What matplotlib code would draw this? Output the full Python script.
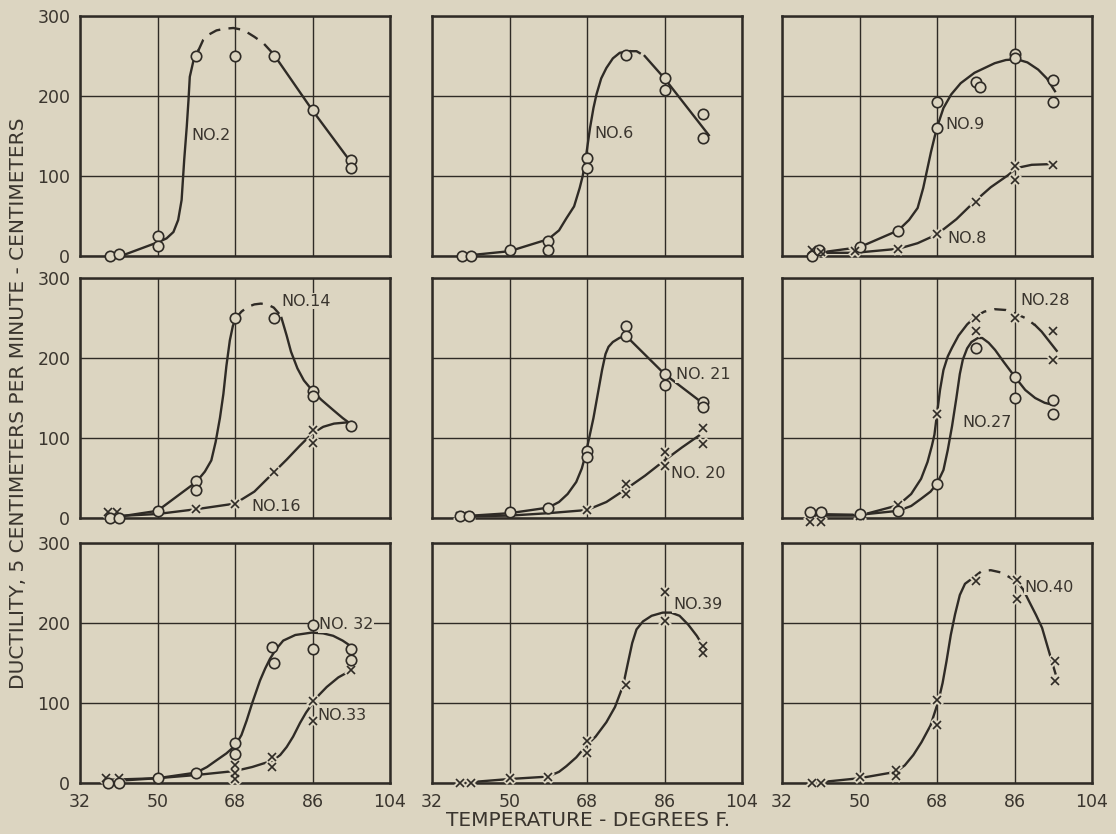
import numpy as np
import matplotlib.pyplot as plt

nan = np.nan
bg = '#dcd5c1'
ink = '#2f2b26'
txt = '#3a352e'

# ---- panel 1: No. 2 ----
no2_t = [39, 41, 50, 50, 59, 68, 77, 86, 95, 95]
no2_v = [0, 2, 25, 12, 250, 250, 250, 182, 120, 110]
no2_line_x = [39, 42, 50, 52.1, 53.7, 54.8, 55.6, 56.2, 56.8, 57.2, 57.5, 58.3, 59.5,
              nan, 77, 86, 95.5]
no2_line_y = [0, 1, 17, 22, 30, 45, 70, 120, 162, 195, 224, 243, 257,
              nan, 252, 182, 113]
no2_dash_x = [59.5, 60.6, 62, 63.7, 65.5, 67.6, 69.5, 70.7, 72.5, 74.6, 77]
no2_dash_y = [257, 270, 277, 282, 284, 285, 283, 280, 274, 266, 252]

# ---- panel 2: No. 6 ----
no6_t = [39, 41, 50, 59, 59, 68, 68, 77, 86, 86, 95, 95]
no6_v = [0, 0, 7, 19, 7, 123, 110, 251, 223, 207, 177, 147]
no6_line_x = [39, 50, 59, 61.5, 63.2, 65, 66.3, 67, 67.7, 68.7, 69.5, 70.2, 71.3, 72.5,
              74, 75.6, 77.9, nan, 81.4, 86, 96.3]
no6_line_y = [0, 6, 21, 32, 47, 62, 85, 100, 122, 160, 185, 202, 222, 235,
              247, 254, 256, nan, 250, 222, 151]
no6_dash_x = [77.9, 79.5, 81.4]
no6_dash_y = [256, 256, 250]

# ---- panel 3: No. 9 and No. 8 ----
no9_t = [39, 40.5, 50, 59, 68, 68, 77, 78, 86, 86, 95, 95]
no9_v = [0, 7, 11, 31, 160, 193, 218, 211, 253, 247, 220, 192]
no9_line_x = [39, 50, 59, 61.5, 63.5, 64.8, 65.8, 66.6, 67.5, 68.2, 69.5, 71.3, 73.5,
              76.7, 81.4, 84, 86.5, 89, 91.5, 93.5, 95.4]
no9_line_y = [3, 11, 32, 45, 60, 85, 110, 130, 150, 164, 185, 202, 216,
              229, 241, 245, 246, 242, 233, 222, 206]
no8_t = [39, 41, 49, 59, 68, 77, 86, 86, 95]
no8_v = [7, 5, 6, 9, 27, 68, 112, 95, 114]
no8_line_x = [39, 49, 59, 63.5, 68, 72.5, 76.7, 80.5, 84.5, 86.5, 90, 95]
no8_line_y = [4, 4, 9, 16, 27, 46, 68, 86, 101, 110, 114, 115]

# ---- panel 4: No. 14 and No. 16 ----
no14_t = [39, 41, 50, 59, 59, 68, 77, 86, 86, 95]
no14_v = [0, 0, 9, 46, 35, 250, 250, 159, 152, 115]
no14_line_x = [39, 50, 59, 61, 62.5, 63.5, 64.5, 65.3, 66, 66.8, 67.5, 68.2,
               nan, 78.8, 80, 81, 82.5, 84, 86, 88, 90.8, 93, 95]
no14_line_y = [0, 9, 45, 58, 72, 95, 125, 155, 190, 222, 240, 250,
               nan, 250, 228, 208, 187, 172, 159, 148, 135, 125, 117]
no14_dash_x = [68.2, 69.5, 71, 72.5, 74, 75.5, 77, 78.3, 78.8]
no14_dash_y = [250, 258, 264, 267, 268, 267, 263, 255, 250]
no16_t = [38.5, 40.5, 59, 68, 77, 86, 86]
no16_v = [8, 8, 11, 18, 57, 110, 94]
no16_line_x = [39, 50, 59, 68, 72.5, 77, 80, 83, 86, 88.5, 91, 95]
no16_line_y = [2, 5, 11, 18, 33, 57, 73, 90, 106, 114, 118, 120]

# ---- panel 5: No. 21 and No. 20 ----
no21_t = [38.5, 40.5, 50, 59, 68, 68, 77, 77, 86, 86, 95, 95]
no21_v = [2, 2, 7, 13, 84, 76, 240, 228, 180, 166, 145, 139]
no21_line_x = [38.5, 50, 59, 61.5, 63.5, 65.5, 66.8, 67.7, 68.5, 69.5, 70.5, 71.5,
               72.3, 73, 74, 75.5, 77, 86, 95]
no21_line_y = [2, 6, 13, 20, 30, 45, 62, 80, 100, 125, 155, 185,
               205, 214, 220, 225, 228, 180, 143]
no20_t = [38.5, 40.5, 68, 77, 77, 86, 86, 95, 95]
no20_v = [2, 2, 10, 43, 30, 82, 65, 113, 92]
no20_line_x = [38.5, 50, 59, 68, 72.5, 77, 81.5, 86, 90, 94]
no20_line_y = [2, 3, 6, 10, 20, 36, 53, 72, 88, 103]

# ---- panel 6: No. 28 and No. 27 ----
no27_t = [38.5, 41, 50, 59, 68, 77, 86, 86, 95, 95]
no27_v = [7, 7, 5, 9, 43, 213, 176, 150, 147, 130]
no27_line_x = [38.5, 50, 59, 62, 64.3, 66.5, 68, 69.5, 70.5, 71.5, 72.5, 73.3, 74, 75,
               76, 77.5, 78.5, 80, 81.5, 83.5, 86.3, 88.5, 90.8, 93, 95.3]
no27_line_y = [5, 4, 9, 15, 24, 33, 43, 60, 85, 115, 150, 180, 198, 212,
               220, 225, 225, 219, 210, 195, 175, 160, 150, 144, 141]
no28_t = [38.5, 41, 50, 59, 68, 77, 77, 86, 95, 95]
no28_v = [-5, -5, 3, 16, 130, 250, 234, 250, 234, 198]
no28_line_x = [38.5, 50, 59, 62, 64.3, 65.8, 66.8, 67.4, 68, 68.7, 69.5, 70.5, 71.5,
               73, 75, 77, nan, 90.8, 92.3, 95.8]
no28_line_y = [3, 3, 16, 30, 49, 70, 90, 104, 130, 160, 185, 202, 213,
               228, 242, 252, nan, 241, 233, 209]
no28_dash_x = [77, 79, 81.4, 84, 86, 88.5, 90.8]
no28_dash_y = [252, 258, 261, 260, 256, 250, 241]

# ---- panel 7: No. 32 and No. 33 ----
no32_t = [38.5, 41, 50, 59, 68, 68, 76.5, 77, 86, 86, 95, 95]
no32_v = [0, 0, 6, 13, 50, 36, 170, 150, 198, 168, 168, 154]
no32_line_x = [38.5, 50, 59, 61.5, 63.6, 66, 68.1, 69.5, 70.7, 72, 73.8, 75, 76.1,
               77.5, 79.2, 82, 85.8, 88.5, 90.8, 93, 95.2]
no32_line_y = [2, 6, 13, 20, 28, 37, 47, 60, 78, 100, 128, 143, 155,
               167, 178, 185, 188, 187, 184, 178, 170]
no33_t = [38, 41, 68, 68, 68, 76.7, 76.7, 86, 86, 95]
no33_v = [6, 6, 22, 13, 5, 32, 20, 103, 78, 141]
no33_line_x = [38.5, 50, 59, 68, 72, 76.7, 78.5, 80, 81.5, 83.1, 84.5, 85.8, 87.5,
               89.3, 92, 95]
no33_line_y = [4, 6, 10, 15, 20, 28, 35, 45, 58, 75, 88, 98, 110,
               120, 132, 141]

# ---- panel 8: No. 39 ----
no39_t = [38.5, 41, 50, 59, 68, 68, 77, 86, 86, 95, 95]
no39_v = [0, 0, 6, 8, 53, 38, 122, 239, 202, 171, 163]
no39_line_x = [38.5, 50, 59, 61.5, 63.2, 65.5, 67.7, 70, 72.5, 74.5, 76.4, 77.5, 78.5,
               79.5, 81, 83, 85.6, 87.5, 89.5, 91.5, 93.5, 95]
no39_line_y = [0, 5, 8, 14, 21, 32, 46, 58, 76, 95, 122, 150, 175,
               192, 202, 209, 213, 213, 209, 198, 184, 171]

# ---- panel 9: No. 40 ----
no40_t = [39, 41, 50, 58.5, 58.5, 68, 68, 77, 86.5, 86.5, 95.5, 95.5]
no40_v = [0, 0, 7, 16, 9, 104, 72, 252, 254, 230, 152, 127]
no40_line_x = [39, 50, 58.5, 60.5, 62.5, 64.4, 66.5, 68.3, 69.3, 70.2, 71.2, 72.2,
               73.3, 74.5, 76, nan, 86.5, 88, 89.3, 91, 92.4, 93.7, 95.5]
no40_line_y = [0, 6, 14, 22, 35, 51, 72, 102, 125, 152, 185, 211,
               235, 249, 255, nan, 252, 242, 228, 210, 194, 170, 137]
no40_dash_x = [76, 78.4, 80.5, 83, 86.5]
no40_dash_y = [255, 265, 266, 263, 252]

x_ticks = [32, 50, 68, 86, 104]
y_ticks = [0, 100, 200, 300]

plt.rcParams['font.family'] = 'DejaVu Sans'

fig = plt.figure(figsize=(11.16, 8.34), dpi=100, facecolor=bg)

col_left = [80, 432, 782]
row_top = [16, 278, 543]


def make_axes(row, col):
    ax = fig.add_axes([col_left[col] / 1116, 1 - (row_top[row] + 240) / 834,
                       310 / 1116, 240 / 834])
    ax.set_facecolor(bg)
    ax.set_xlim(32, 104)
    ax.set_ylim(0, 300)
    ax.set_xticks(x_ticks)
    ax.set_yticks(y_ticks)
    ax.grid(True, color=ink, lw=1.0)
    ax.set_axisbelow(True)
    for sp in ax.spines.values():
        sp.set_color(ink)
        sp.set_linewidth(1.8)
    ax.tick_params(length=0, pad=7, labelsize=12.5, colors=txt)
    if col > 0:
        ax.set_yticklabels([])
    if row < 2:
        ax.set_xticklabels([])
    return ax


def curve(ax, xs, ys, dashed=False):
    ax.plot(xs, ys, color=ink, lw=1.7, ls=(0, (5, 3.5)) if dashed else '-',
            zorder=3)


def circles(ax, t, v):
    ax.plot(t, v, ls='none', marker='o', ms=7.5, mfc=bg, mec=ink, mew=1.2,
            zorder=5, clip_on=False)


def crosses(ax, t, v):
    ax.plot(t, v, ls='none', marker='x', ms=7, mew=4, color=bg, zorder=4,
            clip_on=False)
    ax.plot(t, v, ls='none', marker='x', ms=5.5, mew=1.2, color=ink, zorder=5,
            clip_on=False)


def label(ax, x, y, s):
    ax.text(x, y, s, fontsize=11.5, color=txt, ha='left', va='center',
            zorder=4.5, bbox=dict(fc=bg, ec='none', pad=0.6))


ax = make_axes(0, 0)
curve(ax, no2_line_x, no2_line_y)
curve(ax, no2_dash_x, no2_dash_y, dashed=True)
circles(ax, no2_t, no2_v)
label(ax, 57.8, 151, 'NO.2')

ax = make_axes(0, 1)
curve(ax, no6_line_x, no6_line_y)
curve(ax, no6_dash_x, no6_dash_y, dashed=True)
circles(ax, no6_t, no6_v)
label(ax, 69.6, 153, 'NO.6')

ax = make_axes(0, 2)
curve(ax, no9_line_x, no9_line_y)
curve(ax, no8_line_x, no8_line_y)
circles(ax, no9_t, no9_v)
crosses(ax, no8_t, no8_v)
label(ax, 70.0, 164, 'NO.9')
label(ax, 70.3, 22, 'NO.8')

ax = make_axes(1, 0)
curve(ax, no14_line_x, no14_line_y)
curve(ax, no14_dash_x, no14_dash_y, dashed=True)
curve(ax, no16_line_x, no16_line_y)
crosses(ax, no16_t, no16_v)
circles(ax, no14_t, no14_v)
label(ax, 78.8, 271, 'NO.14')
label(ax, 71.8, 14, 'NO.16')

ax = make_axes(1, 1)
curve(ax, no21_line_x, no21_line_y)
curve(ax, no20_line_x, no20_line_y)
crosses(ax, no20_t, no20_v)
circles(ax, no21_t, no21_v)
label(ax, 88.6, 179, 'NO. 21')
label(ax, 87.6, 56, 'NO. 20')

ax = make_axes(1, 2)
curve(ax, no27_line_x, no27_line_y)
curve(ax, no28_line_x, no28_line_y)
curve(ax, no28_dash_x, no28_dash_y, dashed=True)
crosses(ax, no28_t, no28_v)
circles(ax, no27_t, no27_v)
label(ax, 87.4, 272, 'NO.28')
label(ax, 73.9, 119, 'NO.27')

ax = make_axes(2, 0)
curve(ax, no32_line_x, no32_line_y)
curve(ax, no33_line_x, no33_line_y)
crosses(ax, no33_t, no33_v)
circles(ax, no32_t, no32_v)
label(ax, 87.5, 198, 'NO. 32')
label(ax, 87.2, 84, 'NO.33')

ax = make_axes(2, 1)
curve(ax, no39_line_x, no39_line_y)
crosses(ax, no39_t, no39_v)
label(ax, 88.0, 223, 'NO.39')

ax = make_axes(2, 2)
curve(ax, no40_line_x, no40_line_y)
curve(ax, no40_dash_x, no40_dash_y, dashed=True)
crosses(ax, no40_t, no40_v)
label(ax, 88.4, 245, 'NO.40')

fig.text(19 / 1116, 1 - 403 / 834, 'DUCTILITY, 5 CENTIMETERS PER MINUTE - CENTIMETERS',
         rotation=90, ha='center', va='center', fontsize=14.5, color=txt)
fig.text(588 / 1116, 1 - 820 / 834, 'TEMPERATURE - DEGREES F.',
         ha='center', va='center', fontsize=14.5, color=txt)

fig.savefig('out.png', dpi=100, facecolor=bg)
